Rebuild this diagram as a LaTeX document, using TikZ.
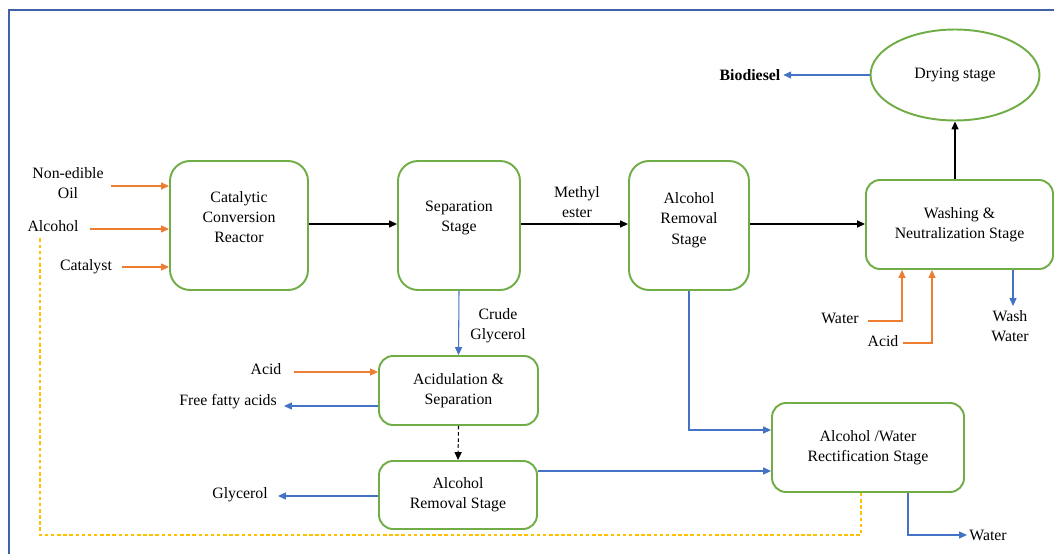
\documentclass[tikz,border=0pt]{standalone}
\usepackage{fontspec}
\setmainfont{Liberation Serif}
\usetikzlibrary{arrows.meta,shapes.geometric}
\definecolor{grn}{RGB}{112,173,71}
\definecolor{org}{RGB}{237,125,49}
\definecolor{blu}{RGB}{68,114,196}
\definecolor{ylw}{RGB}{255,192,0}
\definecolor{frm}{RGB}{63,98,168}
\begin{document}
\begin{tikzpicture}[x=0.02cm,y=-0.02cm,
  txt/.style={font=\fontsize{9}{11.6}\selectfont, align=center, inner sep=0pt},
  lbl/.style={font=\fontsize{9}{11.6}\selectfont, align=center, inner sep=1.5pt},
  tallbox/.style={draw=grn, line width=1.1pt, rounded corners=0.4cm, minimum height=2.58cm},
  box/.style={draw=grn, line width=1.1pt, rounded corners=0.28cm, font=\fontsize{9}{11.6}\selectfont, align=center},
  tip/.style={-{Triangle[length=4.5pt,width=4pt]}},
  oarr/.style={tip, draw=org, line width=0.6pt},
  barr/.style={tip, draw=blu, line width=0.6pt},
  karr/.style={tip, draw=black, line width=0.6pt},
  ydash/.style={draw=ylw, line width=0.6pt, dash pattern=on 2pt off 1.5pt}
]
\useasboundingbox (0,0) rectangle (1054,554);
% frame
\draw[frm, line width=1.3pt] (1060,10) -- (9,10) -- (9,560);

% top row boxes
\node[tallbox, minimum width=2.76cm] (reactor) at (239,225.5) {};
\node[txt] (reactorT) at (239,217) {Catalytic\\Conversion\\Reactor};
\node[tallbox, minimum width=2.44cm] (sep) at (459,225.5) {};
\node[txt] (sepT) at (459,218) {Separation\\Stage};
\node[tallbox, minimum width=2.4cm] (alc) at (689,225.5) {};
\node[txt] (alcT) at (689,220) {Alcohol\\Removal\\Stage};
\node[box, minimum width=3.74cm, minimum height=1.78cm] (wash) at (959.5,224.5) {Washing \&\\Neutralization Stage};
\node[ellipse, draw=grn, line width=1.1pt, minimum width=3.38cm, minimum height=1.82cm, font=\fontsize{9}{11.6}\selectfont] (dry) at (955,75) {Drying stage};

% lower boxes
\node[box, minimum width=3.18cm, minimum height=1.38cm] (acd) at (458.5,390.5) {Acidulation \&\\Separation};
\node[box, minimum width=3.16cm, minimum height=1.36cm] (arb) at (458,495) {Alcohol\\Removal Stage};
\node[box, minimum width=3.84cm, minimum height=1.78cm] (rect) at (868,447.5) {Alcohol /Water\\Rectification Stage};

% outside labels
\node[txt] (oil) at (68,183) {Non-edible\\Oil};
\node[txt] (alcin) at (53,226) {Alcohol};
\node[txt] (cat) at (86,267) {Catalyst};
\node[txt] (methyl) at (577,202) {Methyl\\ester};
\node[lbl, font=\fontsize{9}{11.6}\selectfont\bfseries] (bio) at (750,75) {Biodiesel};
\node[txt] (crude) at (498,326) {Crude\\Glycerol};
\node[txt] (acid1) at (266,369) {Acid};
\node[txt] (ffa) at (228,402) {Free fatty acids};
\node[txt] (glyc) at (240,495) {Glycerol};
\node[txt] (water1) at (840,318) {Water};
\node[txt] (acid2) at (883,341) {Acid};
\node[txt] (washw) at (1010,326) {Wash\\Water};
\node[txt] (wout) at (988,535) {Water};

% helper coordinates
\coordinate (oilS) at (111,186);
\coordinate (alcS) at (90,229);
\coordinate (catS) at (122,267);
\coordinate (acidS) at (294,372);
\coordinate (ffaE) at (284,406);
\coordinate (glyE) at (278,496);
\coordinate (y471) at (0,471);
\coordinate (x908) at (908,0);
\coordinate (x861) at (861,0);
\coordinate (woutE) at (967,535);
\coordinate (ycorner) at (40,535);
\coordinate (yend) at (40,236);
\coordinate (w2S) at (868,321);
\coordinate (a2S) at (903,343);
\coordinate (x902) at (902,0);
\coordinate (x932) at (932,0);
\coordinate (x1013) at (1013,0);
\coordinate (wwE) at (1013,306);
\coordinate (y430) at (0,430);
\coordinate (y224) at (0,224);

% inputs to reactor
\draw[oarr] (oilS) -- (reactor.west |- oilS);
\draw[oarr] (alcS) -- (reactor.west |- alcS);
\draw[oarr] (catS) -- (reactor.west |- catS);

% main line
\draw[karr] (reactor.east |- y224) -- (sep.west |- y224);
\draw[karr] (sep.east |- y224) -- (alc.west |- y224);
\draw[karr] (alc.east |- y224) -- (wash.west |- y224);
\draw[karr] (dry.south |- wash.north) -- (dry.south);
\draw[barr] (dry.west) -- (bio.east);

% washing inputs / outputs
\draw[oarr] (w2S) -| (x902 |- wash.south);
\draw[oarr] (a2S) -| (x932 |- wash.south);
\draw[barr] (x1013 |- wash.south) -- (wwE);

% glycerol branch
\draw[barr] (sep.south) -- (acd.north);
\draw[oarr] (acidS) -- (acd.west |- acidS);
\draw[barr] (acd.west |- ffaE) -- (ffaE);
\draw[tip, draw=black, line width=0.6pt, dash pattern=on 2pt off 1.5pt] (acd.south) -- (arb.north);
\draw[barr] (arb.west |- glyE) -- (glyE);
\draw[barr] (arb.east |- y471) -- (rect.west |- y471);
\draw[barr] (alc.south) |- (rect.west |- y430);

% rectification outputs
\draw[barr] (rect.south -| x908) |- (woutE);
\draw[ydash] (rect.south -| x861) |- (ycorner) -- (yend);
\end{tikzpicture}
\end{document}
